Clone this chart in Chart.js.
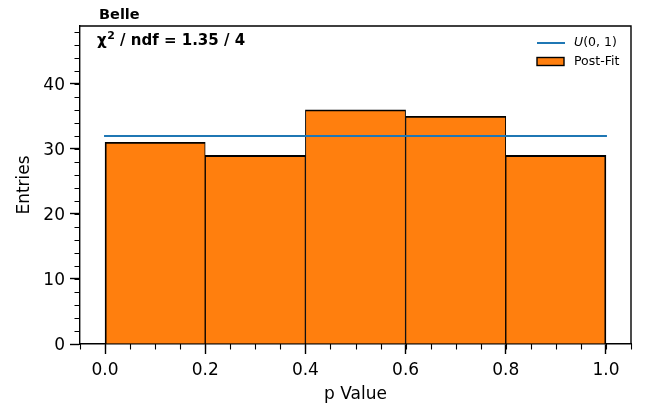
<!DOCTYPE html>
<html>
<head>
<meta charset="utf-8">
<script src="https://cdn.jsdelivr.net/npm/chart.js@4"></script>
<style>
  html, body { margin: 0; padding: 0; background: #fff; }
</style>
</head>
<body>
<canvas id="c" width="657" height="408"></canvas>
<script>
// Histogram of fit p-values (5 bins on [0, 1])
const binCenters = [0.1, 0.3, 0.5, 0.7, 0.9];
const entries = [31, 29, 36, 35, 29];

// Expected flat level for a uniform distribution and its extent
const uniformLevel = 32;
const uniformRange = [0, 1];

// Axis ranges and tick labels
const xLimits = [-0.05, 1.05];
const yLimits = [0, 48.9];
const xTicks = [0.0, 0.2, 0.4, 0.6, 0.8, 1.0];
const yTicks = [0, 10, 20, 30, 40];
const xMinorStep = 0.05;
const yMinorStep = 2;

// Text
const experiment = 'Belle';
const fitSummary = { symbol: 'χ', power: '2', rest: ' / ndf = 1.35 / 4' };
const seriesLabels = ['U(0, 1)', 'Post-Fit'];
const axisTitles = { x: 'p Value', y: 'Entries' };

const FONT = "'DejaVu Sans', sans-serif";
const BLUE = '#1f77b4';
const ORANGE = '#ff7f0e';

// Frame, minor ticks, annotations and legend drawn on top of the chart
const decorations = {
  id: 'decorations',
  afterDraw(chart) {
    const { ctx, chartArea: a, scales } = chart;
    ctx.save();

    // top and right spines
    ctx.strokeStyle = '#000';
    ctx.lineWidth = 1.4;
    ctx.beginPath();
    ctx.moveTo(a.left, a.top);
    ctx.lineTo(a.right, a.top);
    ctx.lineTo(a.right, a.bottom);
    ctx.stroke();

    // minor ticks
    ctx.lineWidth = 1.1;
    ctx.beginPath();
    const nx = Math.round((xLimits[1] - xLimits[0]) / xMinorStep);
    for (let i = 0; i <= nx; i++) {
      const px = Math.round(scales.x.getPixelForValue(xLimits[0] + i * xMinorStep)) + 0.5;
      ctx.moveTo(px, a.bottom);
      ctx.lineTo(px, a.bottom + 5.5);
    }
    for (let v = yLimits[0]; v <= yLimits[1]; v += yMinorStep) {
      const py = Math.round(scales.y.getPixelForValue(v)) + 0.5;
      ctx.moveTo(a.left, py);
      ctx.lineTo(a.left - 5.5, py);
    }
    ctx.stroke();

    // experiment label above the frame
    ctx.fillStyle = '#000';
    ctx.textBaseline = 'alphabetic';
    ctx.textAlign = 'left';
    ctx.font = `bold 14.5px ${FONT}`;
    ctx.fillText(experiment, a.left + 19, 18.5);

    // fit summary inside the frame, with a raised exponent
    let tx = a.left + 17;
    ctx.font = `bold 15px ${FONT}`;
    ctx.fillText(fitSummary.symbol, tx, 45);
    tx += ctx.measureText(fitSummary.symbol).width + 0.5;
    ctx.font = `bold 11px ${FONT}`;
    ctx.fillText(fitSummary.power, tx, 39);
    tx += ctx.measureText(fitSummary.power).width;
    ctx.font = `bold 15px ${FONT}`;
    ctx.fillText(fitSummary.rest, tx, 45);

    // legend
    const lx = a.right - 94;
    const ds = chart.data.datasets;
    ctx.textBaseline = 'middle';
    // line entry
    ctx.strokeStyle = ds[0].borderColor;
    ctx.lineWidth = 2;
    ctx.beginPath();
    ctx.moveTo(lx, 43);
    ctx.lineTo(lx + 28, 43);
    ctx.stroke();
    const lbl = ds[0].label;
    ctx.font = `italic 12.5px ${FONT}`;
    ctx.fillText(lbl[0], lx + 37, 43);
    const w0 = ctx.measureText(lbl[0]).width;
    ctx.font = `12.5px ${FONT}`;
    ctx.fillText(lbl.slice(1), lx + 37 + w0, 43);
    // bar entry
    ctx.fillStyle = ds[1].backgroundColor;
    ctx.fillRect(lx, 57.5, 27, 8);
    ctx.strokeStyle = '#000';
    ctx.lineWidth = 1.4;
    ctx.strokeRect(lx, 57.5, 27, 8);
    ctx.fillStyle = '#000';
    ctx.fillText(ds[1].label, lx + 37, 61.5);

    ctx.restore();
  }
};

new Chart(document.getElementById('c'), {
  type: 'bar',
  data: {
    datasets: [
      {
        type: 'line',
        label: seriesLabels[0],
        data: uniformRange.map(x => ({ x, y: uniformLevel })),
        borderColor: BLUE,
        borderWidth: 2,
        pointRadius: 0,
        borderCapStyle: 'square',
        order: 0
      },
      {
        type: 'bar',
        label: seriesLabels[1],
        data: binCenters.map((x, i) => ({ x, y: entries[i] })),
        backgroundColor: ORANGE,
        borderColor: '#000',
        borderWidth: c => ({
          top: 1.8,
          left: c.dataIndex === 0 ? 1.8 : 1,
          right: c.dataIndex === binCenters.length - 1 ? 1.8 : 1,
          bottom: 0
        }),
        borderSkipped: false,
        categoryPercentage: 1,
        barPercentage: 1,
        order: 1
      }
    ]
  },
  options: {
    responsive: false,
    animation: false,
    devicePixelRatio: 1,
    layout: { padding: { top: 26, right: 26, left: 0, bottom: 0 } },
    plugins: { legend: { display: false }, tooltip: { enabled: false } },
    scales: {
      x: {
        type: 'linear',
        min: xLimits[0],
        max: xLimits[1],
        offset: false,
        afterBuildTicks: s => { s.ticks = xTicks.map(v => ({ value: v })); },
        afterFit: s => { s.height = 64; },
        grid: { offset: false, drawOnChartArea: false, tickLength: 10, tickWidth: 1.4, tickColor: '#000' },
        border: { display: true, color: '#000', width: 1.4 },
        ticks: {
          color: '#000', padding: 6, maxRotation: 0, autoSkip: false,
          font: { family: FONT, size: 17 },
          callback: v => Number(v).toFixed(1)
        },
        title: {
          display: true, text: axisTitles.x, color: '#000',
          font: { family: FONT, size: 17 }, padding: { top: 0, bottom: 3 }
        }
      },
      y: {
        min: yLimits[0],
        max: yLimits[1],
        afterBuildTicks: s => { s.ticks = yTicks.map(v => ({ value: v })); },
        afterFit: s => { s.width = 80; },
        grid: { drawOnChartArea: false, tickLength: 10, tickWidth: 1.4, tickColor: '#000' },
        border: { display: true, color: '#000', width: 1.4 },
        ticks: {
          color: '#000', padding: 5, labelOffset: 1.5,
          font: { family: FONT, size: 17 },
          callback: v => String(v)
        },
        title: {
          display: true, text: axisTitles.y, color: '#000',
          font: { family: FONT, size: 17 }, padding: { top: 14, bottom: 0 }
        }
      }
    }
  },
  plugins: [decorations]
});
</script>
</body>
</html>
